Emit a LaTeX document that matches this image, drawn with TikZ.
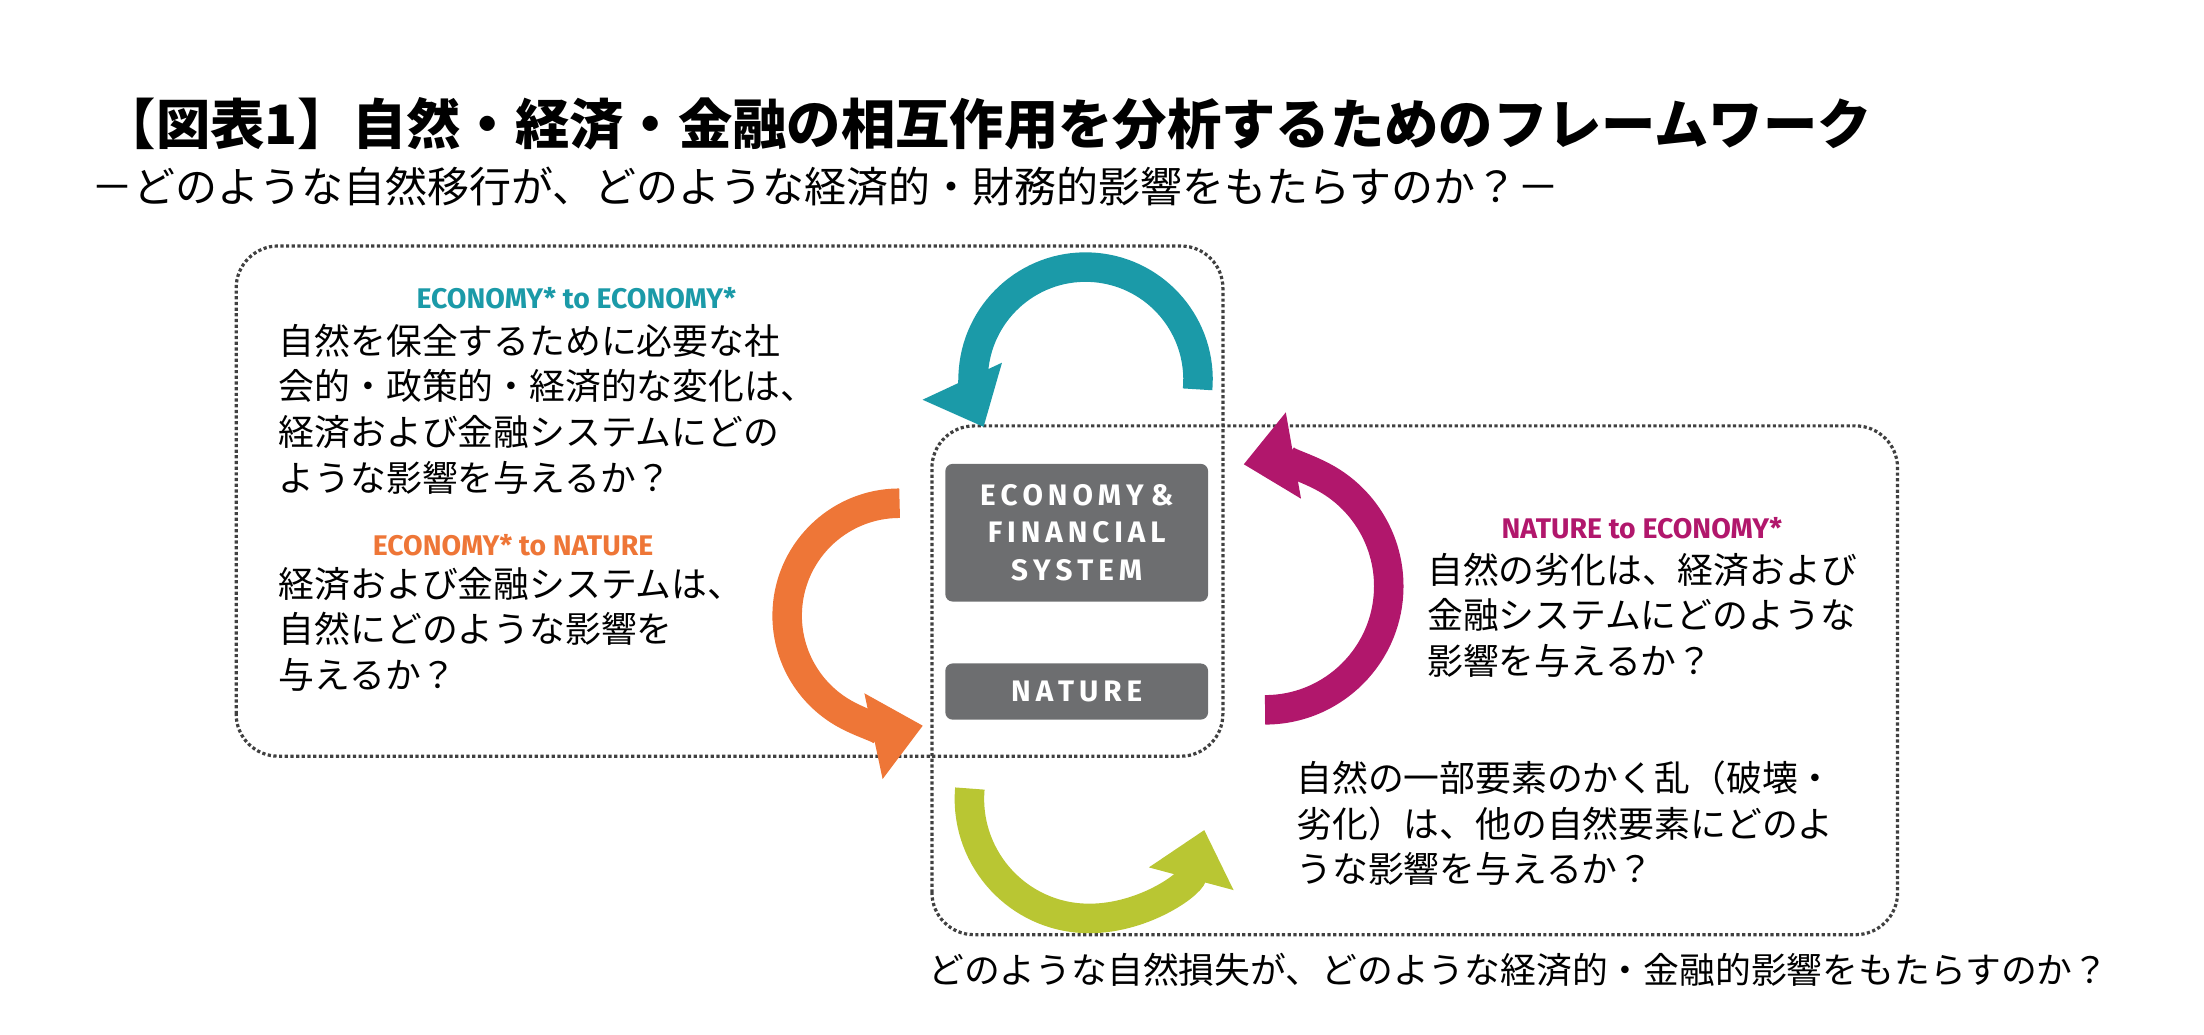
\documentclass[tikz,border=0pt]{standalone}
\usepackage{fontspec}
\setmainfont{Noto Sans CJK JP}
\newfontfamily\lat{Fira Sans}
\usetikzlibrary{arrows.meta}
\definecolor{teal1}{HTML}{1B9AA8}
\definecolor{orng}{HTML}{EE7637}
\definecolor{mag}{HTML}{B1176C}
\definecolor{grn}{HTML}{B9C633}
\definecolor{gry}{HTML}{6D6E70}
\begin{document}
\begin{tikzpicture}[x=0.02cm,y=0.02cm,
  body/.style={anchor=north west,align=left,font=\fontsize{14.5}{18.5}\selectfont,inner sep=0pt},
  lab/.style={font=\lat\bfseries\fontsize{11.5}{13}\selectfont},
  frame/.style={draw=black!75,densely dotted,line width=1.3pt,rounded corners=0.6cm},
  box/.style={fill=gry,rounded corners=3pt,text=white,font=\lat\bfseries\fontsize{12}{15}\selectfont,align=center},
  arr/.style={line width=0.42cm,-{Triangle[width=1.2cm,length=0.72cm]}}]
\useasboundingbox (0,0) rectangle (1568,736);
\node[anchor=west,inner sep=0pt,font=\bfseries\fontsize{22}{25}\selectfont] (title) at (72,648) {【図表1】自然・経済・金融の相互作用を分析するためのフレームワーク};
\node[anchor=west,inner sep=0pt,font=\fontsize{17}{20}\selectfont] (sub) at (65,603) {－どのような自然移行が、どのような経済的・財務的影響をもたらすのか？－};
\draw[frame] (168,198) rectangle (870,561);
\draw[frame] (663,71) rectangle (1350,433);
\draw[arr,teal1] (852,459) arc[start angle=-5,end angle=205,radius=80];
\draw[arr,orng] (640,378) arc[start angle=90,end angle=282,radius=80];
\draw[arr,mag] (900,231) arc[start angle=-90,end angle=100,radius=88];
\draw[arr,grn] (690,175) arc[start angle=175,end angle=345,radius=85];
\node[box,minimum width=3.74cm,minimum height=1.96cm] (econ) at (766,357) {E\,C\,O\,N\,O\,M\,Y \& \\ F\,I\,N\,A\,N\,C\,I\,A\,L\\ S\,Y\,S\,T\,E\,M};
\node[box,minimum width=3.74cm,minimum height=0.8cm] (nat) at (766,244) {N\,A\,T\,U\,R\,E};
\node[lab,text=teal1] (l1) at (410,524) {ECONOMY* to ECONOMY*};
\node[body] (t1) at (198,506) {自然を保全するために必要な社\\会的・政策的・経済的な変化は、\\経済および金融システムにどの\\ような影響を与えるか？};
\node[lab,text=orng] (l2) at (365,348) {ECONOMY* to NATURE};
\node[body] (t2) at (198,333) {経済および金融システムは、\\自然にどのような影響を\\与えるか？};
\node[lab,text=mag] (l3) at (1168,360) {NATURE to ECONOMY*};
\node[body] (t3) at (1015,343) {自然の劣化は、経済および\\金融システムにどのような\\影響を与えるか？};
\node[body] (t4) at (922,195) {自然の一部要素のかく乱（破壊・\\劣化）は、他の自然要素にどのよ\\うな影響を与えるか？};
\node[anchor=west,inner sep=0pt,font=\fontsize{14.5}{17}\selectfont] (bot) at (660,46) {どのような自然損失が、どのような経済的・金融的影響をもたらすのか？};
\end{tikzpicture}
\end{document}
